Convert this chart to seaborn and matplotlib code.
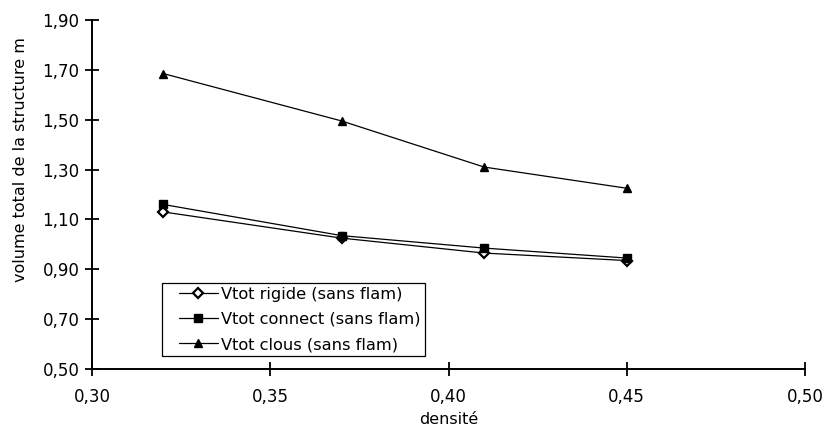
import matplotlib
matplotlib.use("Agg")
import matplotlib.pyplot as plt
import seaborn as sns
import pandas as pd
from matplotlib.ticker import FuncFormatter
from matplotlib.legend_handler import HandlerLine2D

densite = [0.32, 0.37, 0.41, 0.45]
vtot_rigide = [1.13, 1.025, 0.965, 0.935]
vtot_connect = [1.16, 1.035, 0.985, 0.945]
vtot_clous = [1.685, 1.495, 1.31, 1.225]

series_names = ["Vtot rigide (sans flam)", "Vtot connect (sans flam)", "Vtot clous (sans flam)"]
x_ticks = [0.30, 0.35, 0.40, 0.45, 0.50]
y_ticks = [0.50, 0.70, 0.90, 1.10, 1.30, 1.50, 1.70, 1.90]

df = pd.DataFrame({
    "densite": densite * 3,
    "volume": vtot_rigide + vtot_connect + vtot_clous,
    "serie": [s for s in series_names for _ in densite],
})

sns.set_style("white")
plt.rcParams["font.family"] = ["DejaVu Sans"]
plt.rcParams["text.color"] = "black"

fig = plt.figure(figsize=(8.24, 4.30), dpi=100)
ax = fig.add_axes([0.1117, 0.1419, 0.8653, 0.8116])

marker_styles = {
    series_names[0]: dict(marker="D", markersize=5, markerfacecolor="white", markeredgewidth=1.6),
    series_names[1]: dict(marker="s", markersize=5.5, markerfacecolor="black", markeredgewidth=1),
    series_names[2]: dict(marker="^", markersize=6, markerfacecolor="black", markeredgewidth=1),
}

for name in series_names:
    sub = df[df["serie"] == name]
    sns.lineplot(data=sub, x="densite", y="volume", ax=ax, color="black", linewidth=0.9,
                 markeredgecolor="black", label=name, **marker_styles[name])

ax.set_xlim(0.30, 0.50)
ax.set_ylim(0.50, 1.90)
ax.set_xticks(x_ticks)
ax.set_yticks(y_ticks)
comma = FuncFormatter(lambda v, p: f"{v:.2f}".replace(".", ","))
ax.xaxis.set_major_formatter(comma)
ax.yaxis.set_major_formatter(comma)
ax.tick_params(axis="both", bottom=True, left=True, direction="inout", length=10, width=1.3,
               colors="black", labelcolor="black", labelsize=12, pad=4)
ax.tick_params(axis="x", pad=9)

for side in ["top", "right"]:
    ax.spines[side].set_visible(False)
for side in ["left", "bottom"]:
    ax.spines[side].set_color("black")
    ax.spines[side].set_linewidth(1.4)

ax.set_xlabel("densité", fontsize=11.5, labelpad=4, color="black")
ax.set_ylabel("volume total de la structure m", fontsize=11.5, labelpad=10, color="black")
ax.yaxis.set_label_coords(-0.09, 0.6)

handles, labels = ax.get_legend_handles_labels()
leg = ax.legend(handles, labels, loc="lower left", bbox_to_anchor=(0.098, 0.037),
                fancybox=False, framealpha=1, edgecolor="black", fontsize=11.7,
                handlelength=3.2, borderpad=0.25, labelspacing=0.62, handletextpad=0.2,
                borderaxespad=0, handler_map={h: HandlerLine2D(xpad=0.8) for h in handles})
leg.get_frame().set_linewidth(0.9)
for t in leg.get_texts():
    t.set_color("black")

fig.savefig("out.png", dpi=100)
